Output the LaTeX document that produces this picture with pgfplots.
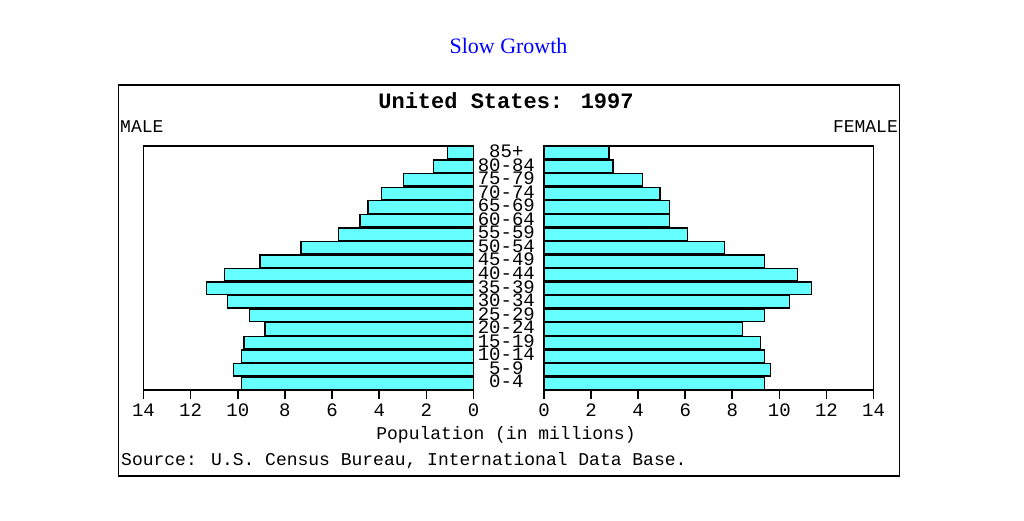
\documentclass[border=0pt]{standalone}
\usepackage{pgfplots}
\pgfplotsset{compat=1.18}
\usepackage{pgfplotstable}
\usepackage{fontspec}
\setmainfont{Liberation Serif}
\newfontfamily\mono{Liberation Mono}
\definecolor{barcyan}{RGB}{102,255,255}

\pgfplotstableread{
idx male female lx lab
0  9.84 9.36 -1.6 0-4
1  10.17 9.61 -1.6 5-9
2  9.84 9.36 -1.6 10-14
3  9.74 9.19 -1.6 15-19
4  8.84 8.43 -1.6 20-24
5  9.49 9.36 -1.6 25-29
6  10.43 10.43 -1.6 30-34
7  11.33 11.36 -1.6 35-39
8  10.57 10.76 -1.6 40-44
9  9.06 9.36 -1.6 45-49
10 7.32 7.68 -1.6 50-54
11 5.73 6.09 -1.6 55-59
12 4.82 5.34 -1.6 60-64
13 4.48 5.34 -1.6 65-69
14 3.89 4.93 -1.6 70-74
15 2.97 4.17 -1.6 75-79
16 1.71 2.93 -1.6 80-84
17 1.10 2.76 -1.6 85+
}\pyramid

\pgfplotsset{
  pyr/.style={
    scale only axis, width=330pt, height=244pt,
    anchor=south west,
    xmin=0, xmax=14, ymin=-0.5, ymax=17.5,
    xtick={0,2,...,14},
    ytick=\empty,
    axis line style={line width=1.5pt},
    major tick length=9pt,
    tick align=outside,
    xtick pos=bottom,
    xtick style={black, solid, line width=1.6pt},
    /pgf/number format/assume math mode=true,
    xticklabel style={font=\mono\fontsize{19}{20}\selectfont, yshift=-1pt},
    clip=false,
  },
  pyrbar/.style={xbar, bar width=12.4pt, fill=barcyan, draw=black, line width=1.3pt},
}

\begin{document}
\begin{tikzpicture}
\useasboundingbox (0pt,0pt) rectangle (1024pt,520pt);
\node[text=blue, font=\fontsize{22}{24}\selectfont] at (508.5pt,474pt) {Slow Growth};
\draw[line width=1.8pt] (118.5pt,44pt) rectangle (899.5pt,435pt);
\node[font=\mono\bfseries\fontsize{22}{24}\selectfont] at (506pt,419pt) {United States: 1997};
\node[anchor=west, inner sep=0pt, font=\mono\fontsize{18}{20}\selectfont] at (120pt,393pt) {MALE};
\node[anchor=east, inner sep=0pt, font=\mono\fontsize{18}{20}\selectfont] at (898pt,393pt) {FEMALE};

\begin{axis}[pyr, at={(143.5pt,130pt)}, x dir=reverse]
\addplot[pyrbar] table[x=male, y=idx] {\pyramid};
\end{axis}

\begin{axis}[pyr, at={(544pt,130pt)}, width=329.5pt]
\addplot[pyrbar] table[x=female, y=idx] {\pyramid};
\addplot[draw=none, mark=none, nodes near coords, point meta=explicit symbolic,
  nodes near coords style={font=\mono\fontsize{19}{16}\selectfont, anchor=center, yshift=1.5pt, inner sep=0pt}]
  table[x=lx, y=idx, meta=lab] {\pyramid};
\end{axis}

% tick marks below both axes, drawn explicitly as thin filled rectangles
\foreach \xx in {143.5,190.6,237.8,284.9,332.1,379.2,426.4,473.5,544.0,591.1,638.1,685.2,732.3,779.4,826.4,873.5} {
  \fill[black] (\xx pt-0.8pt,130pt) rectangle (\xx pt+0.8pt,121pt);
}

\node[font=\mono\fontsize{18}{20}\selectfont] at (506pt,85pt) {Population (in millions)};
\node[anchor=west, inner sep=0pt, font=\mono\fontsize{18}{20}\selectfont] at (121pt,59pt) {Source: U.S. Census Bureau, International Data Base.};
\end{tikzpicture}
\end{document}
